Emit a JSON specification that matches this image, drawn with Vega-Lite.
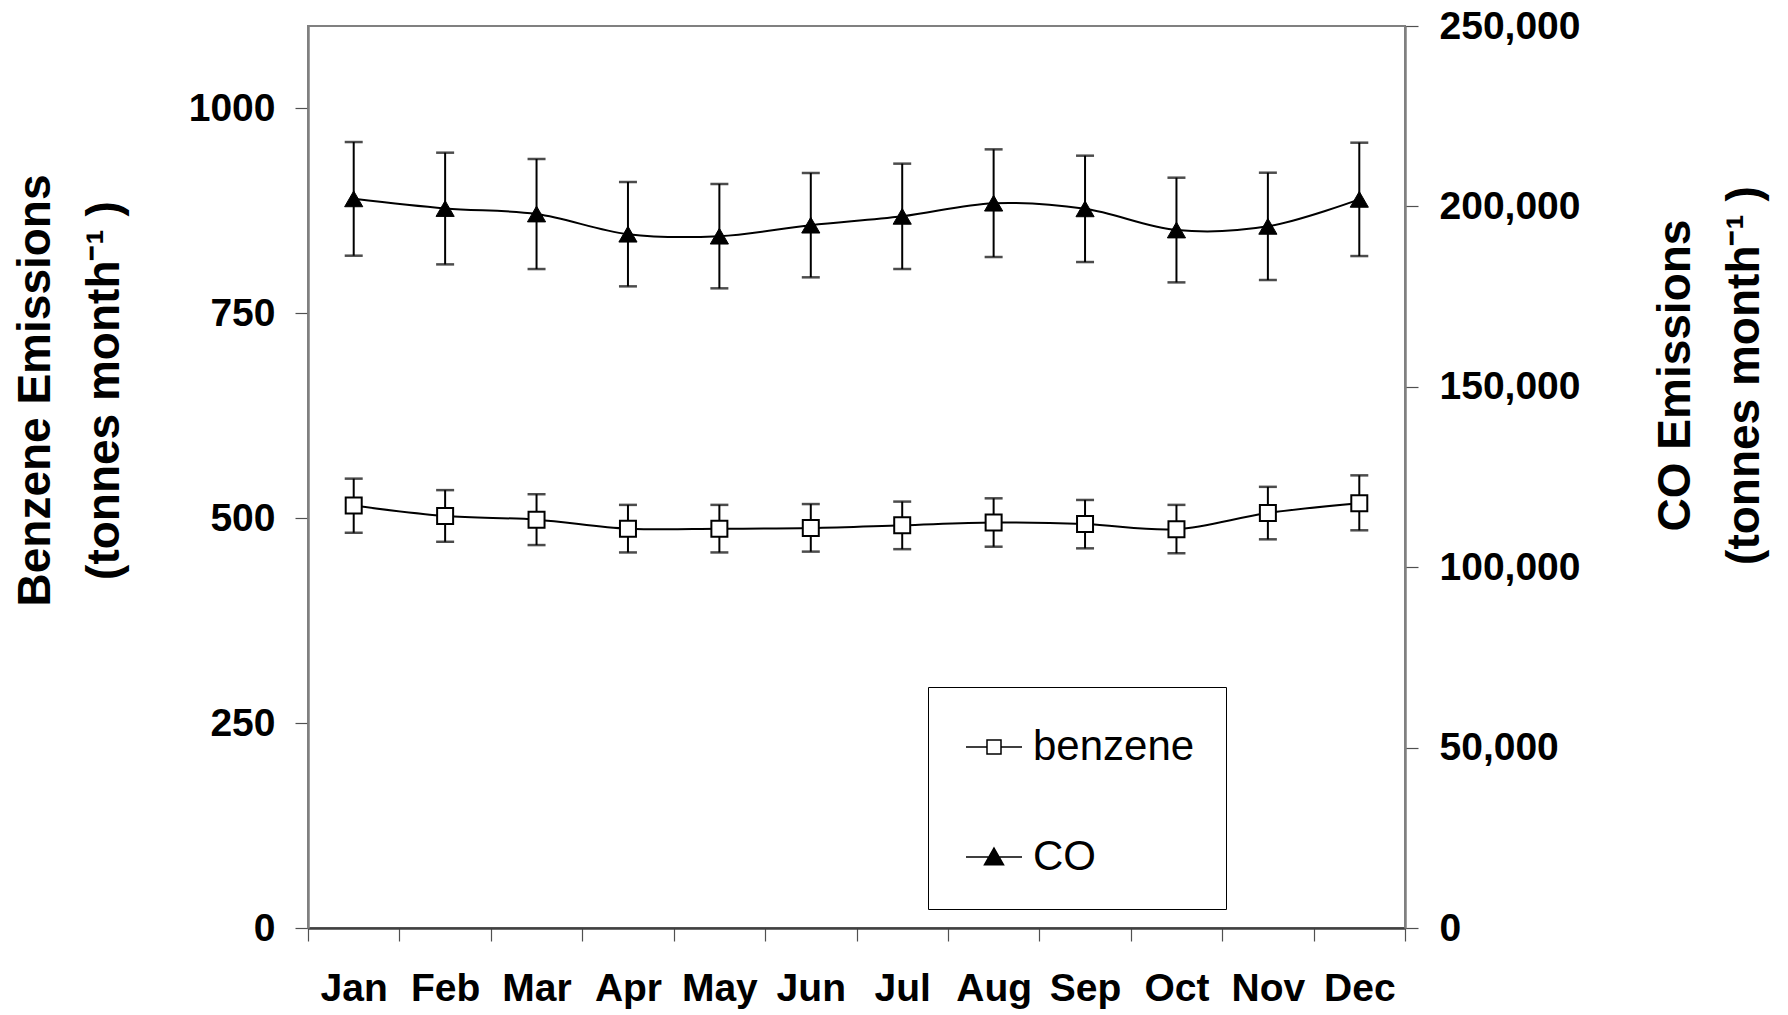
{
  "$schema": "https://vega.github.io/schema/vega-lite/v6.json",
  "width": 1097,
  "height": 902,
  "autosize": {"type": "none"},
  "padding": {"left": 308, "top": 26, "right": 383, "bottom": 87},
  "background": "white",
  "config": {
    "font": "Liberation Sans",
    "view": {"stroke": "#808080", "strokeWidth": 2}
  },
  "datasets": {
    "benz": [
      {"month": "Jan", "value": 515.2, "lo": 482, "hi": 548},
      {"month": "Feb", "value": 502.4, "lo": 471, "hi": 534},
      {"month": "Mar", "value": 498.0, "lo": 467, "hi": 529},
      {"month": "Apr", "value": 487.0, "lo": 458, "hi": 516},
      {"month": "May", "value": 486.8, "lo": 458, "hi": 516},
      {"month": "Jun", "value": 487.8, "lo": 459, "hi": 517},
      {"month": "Jul", "value": 491.1, "lo": 462, "hi": 520},
      {"month": "Aug", "value": 494.5, "lo": 465, "hi": 524},
      {"month": "Sep", "value": 492.7, "lo": 463, "hi": 522},
      {"month": "Oct", "value": 486.4, "lo": 457, "hi": 516},
      {"month": "Nov", "value": 506.1, "lo": 474, "hi": 538},
      {"month": "Dec", "value": 518.1, "lo": 485, "hi": 552}
    ],
    "co": [
      {"month": "Jan", "value": 202090, "lo": 186340, "hi": 217840},
      {"month": "Feb", "value": 199410, "lo": 183930, "hi": 214890},
      {"month": "Mar", "value": 197890, "lo": 182640, "hi": 213140},
      {"month": "Apr", "value": 192300, "lo": 177840, "hi": 206760},
      {"month": "May", "value": 191750, "lo": 177290, "hi": 206210},
      {"month": "Jun", "value": 194800, "lo": 180340, "hi": 209260},
      {"month": "Jul", "value": 197250, "lo": 182650, "hi": 211850},
      {"month": "Aug", "value": 200890, "lo": 185970, "hi": 215810},
      {"month": "Sep", "value": 199320, "lo": 184580, "hi": 214060},
      {"month": "Oct", "value": 193450, "lo": 178940, "hi": 207960},
      {"month": "Nov", "value": 194470, "lo": 179600, "hi": 209340},
      {"month": "Dec", "value": 201950, "lo": 186240, "hi": 217660}
    ],
    "leg": [
      {"series": "benzene"},
      {"series": "CO"}
    ]
  },
  "encoding": {
    "x": {
      "field": "month",
      "type": "nominal",
      "sort": null,
      "scale": {"domain": ["Jan","Feb","Mar","Apr","May","Jun","Jul","Aug","Sep","Oct","Nov","Dec"], "paddingInner": 0, "paddingOuter": 0},
      "axis": {
        "orient": "bottom",
        "title": null,
        "tickBand": "extent",
        "tickSize": 13,
        "tickColor": "#505050",
        "tickWidth": 1.2,
        "domainColor": "#404040",
        "domainWidth": 2.5,
        "labelFontSize": 39,
        "labelFontWeight": "bold",
        "labelColor": "black",
        "labelPadding": 28,
        "labelAngle": 0,
        "labelOverlap": false,
        "grid": false
      }
    }
  },
  "layer": [
    {
      "data": {"name": "benz"},
      "layer": [
        {
          "mark": {"type": "line", "interpolate": "catmull-rom", "color": "black", "strokeWidth": 2},
          "encoding": {"y": {"field": "value", "type": "quantitative", "scale": {"domain": [0, 1100], "nice": false}, "axis": {"orient": "left", "values": [0, 250, 500, 750, 1000], "format": "d", "grid": false, "domainColor": "#808080", "domainWidth": 2.5, "tickColor": "#505050", "tickWidth": 1.2, "tickSize": 13, "labelFontSize": 39, "labelFontWeight": "bold", "labelColor": "black", "labelPadding": 20, "labelFlush": false, "title": ["Benzene Emissions", "(tonnes month⁻¹ )"], "titleFontSize": 46, "titleFontWeight": "bold", "titleColor": "black", "titleAngle": 270, "titleBaseline": "middle", "titleAlign": "center", "titleX": -273, "titleY": 364, "titleLineHeight": 69}}}
        },
        {
          "mark": {"type": "rule", "color": "black", "strokeWidth": 2},
          "encoding": {"y": {"field": "lo", "type": "quantitative", "scale": {"domain": [0, 1100], "nice": false}, "axis": {"orient": "left", "values": [0, 250, 500, 750, 1000], "format": "d", "grid": false, "domainColor": "#808080", "domainWidth": 2.5, "tickColor": "#505050", "tickWidth": 1.2, "tickSize": 13, "labelFontSize": 39, "labelFontWeight": "bold", "labelColor": "black", "labelPadding": 20, "labelFlush": false, "title": ["Benzene Emissions", "(tonnes month⁻¹ )"], "titleFontSize": 46, "titleFontWeight": "bold", "titleColor": "black", "titleAngle": 270, "titleBaseline": "middle", "titleAlign": "center", "titleX": -273, "titleY": 364, "titleLineHeight": 69}}, "y2": {"field": "hi"}}
        },
        {
          "mark": {"type": "tick", "orient": "horizontal", "color": "black", "size": 18, "thickness": 2.5},
          "encoding": {"y": {"field": "lo", "type": "quantitative", "scale": {"domain": [0, 1100], "nice": false}, "axis": {"orient": "left", "values": [0, 250, 500, 750, 1000], "format": "d", "grid": false, "domainColor": "#808080", "domainWidth": 2.5, "tickColor": "#505050", "tickWidth": 1.2, "tickSize": 13, "labelFontSize": 39, "labelFontWeight": "bold", "labelColor": "black", "labelPadding": 20, "labelFlush": false, "title": ["Benzene Emissions", "(tonnes month⁻¹ )"], "titleFontSize": 46, "titleFontWeight": "bold", "titleColor": "black", "titleAngle": 270, "titleBaseline": "middle", "titleAlign": "center", "titleX": -273, "titleY": 364, "titleLineHeight": 69}}}
        },
        {
          "mark": {"type": "tick", "orient": "horizontal", "color": "black", "size": 18, "thickness": 2.5},
          "encoding": {"y": {"field": "hi", "type": "quantitative", "scale": {"domain": [0, 1100], "nice": false}, "axis": {"orient": "left", "values": [0, 250, 500, 750, 1000], "format": "d", "grid": false, "domainColor": "#808080", "domainWidth": 2.5, "tickColor": "#505050", "tickWidth": 1.2, "tickSize": 13, "labelFontSize": 39, "labelFontWeight": "bold", "labelColor": "black", "labelPadding": 20, "labelFlush": false, "title": ["Benzene Emissions", "(tonnes month⁻¹ )"], "titleFontSize": 46, "titleFontWeight": "bold", "titleColor": "black", "titleAngle": 270, "titleBaseline": "middle", "titleAlign": "center", "titleX": -273, "titleY": 364, "titleLineHeight": 69}}}
        },
        {
          "mark": {"type": "point", "shape": "square", "size": 256, "filled": true, "fill": "white", "stroke": "black", "strokeWidth": 2, "opacity": 1},
          "encoding": {"y": {"field": "value", "type": "quantitative", "scale": {"domain": [0, 1100], "nice": false}, "axis": {"orient": "left", "values": [0, 250, 500, 750, 1000], "format": "d", "grid": false, "domainColor": "#808080", "domainWidth": 2.5, "tickColor": "#505050", "tickWidth": 1.2, "tickSize": 13, "labelFontSize": 39, "labelFontWeight": "bold", "labelColor": "black", "labelPadding": 20, "labelFlush": false, "title": ["Benzene Emissions", "(tonnes month⁻¹ )"], "titleFontSize": 46, "titleFontWeight": "bold", "titleColor": "black", "titleAngle": 270, "titleBaseline": "middle", "titleAlign": "center", "titleX": -273, "titleY": 364, "titleLineHeight": 69}}}
        }
      ]
    },
    {
      "data": {"name": "co"},
      "layer": [
        {
          "mark": {"type": "line", "interpolate": "catmull-rom", "color": "black", "strokeWidth": 2},
          "encoding": {"y": {"field": "value", "type": "quantitative", "scale": {"domain": [0, 250000], "nice": false}, "axis": {"orient": "right", "values": [0, 50000, 100000, 150000, 200000, 250000], "format": ",d", "grid": false, "domainColor": "#808080", "domainWidth": 2.5, "tickColor": "#505050", "tickWidth": 1.2, "tickSize": 13, "labelFontSize": 39, "labelFontWeight": "bold", "labelColor": "black", "labelPadding": 21, "labelFlush": false, "title": ["CO Emissions", "(tonnes month⁻¹ )"], "titleFontSize": 46, "titleFontWeight": "bold", "titleColor": "black", "titleAngle": 270, "titleBaseline": "middle", "titleAlign": "center", "titleX": 270, "titleY": 349, "titleLineHeight": 69}}}
        },
        {
          "mark": {"type": "rule", "color": "black", "strokeWidth": 2},
          "encoding": {"y": {"field": "lo", "type": "quantitative", "scale": {"domain": [0, 250000], "nice": false}, "axis": {"orient": "right", "values": [0, 50000, 100000, 150000, 200000, 250000], "format": ",d", "grid": false, "domainColor": "#808080", "domainWidth": 2.5, "tickColor": "#505050", "tickWidth": 1.2, "tickSize": 13, "labelFontSize": 39, "labelFontWeight": "bold", "labelColor": "black", "labelPadding": 21, "labelFlush": false, "title": ["CO Emissions", "(tonnes month⁻¹ )"], "titleFontSize": 46, "titleFontWeight": "bold", "titleColor": "black", "titleAngle": 270, "titleBaseline": "middle", "titleAlign": "center", "titleX": 270, "titleY": 349, "titleLineHeight": 69}}, "y2": {"field": "hi"}}
        },
        {
          "mark": {"type": "tick", "orient": "horizontal", "color": "black", "size": 18, "thickness": 2.5},
          "encoding": {"y": {"field": "lo", "type": "quantitative", "scale": {"domain": [0, 250000], "nice": false}, "axis": {"orient": "right", "values": [0, 50000, 100000, 150000, 200000, 250000], "format": ",d", "grid": false, "domainColor": "#808080", "domainWidth": 2.5, "tickColor": "#505050", "tickWidth": 1.2, "tickSize": 13, "labelFontSize": 39, "labelFontWeight": "bold", "labelColor": "black", "labelPadding": 21, "labelFlush": false, "title": ["CO Emissions", "(tonnes month⁻¹ )"], "titleFontSize": 46, "titleFontWeight": "bold", "titleColor": "black", "titleAngle": 270, "titleBaseline": "middle", "titleAlign": "center", "titleX": 270, "titleY": 349, "titleLineHeight": 69}}}
        },
        {
          "mark": {"type": "tick", "orient": "horizontal", "color": "black", "size": 18, "thickness": 2.5},
          "encoding": {"y": {"field": "hi", "type": "quantitative", "scale": {"domain": [0, 250000], "nice": false}, "axis": {"orient": "right", "values": [0, 50000, 100000, 150000, 200000, 250000], "format": ",d", "grid": false, "domainColor": "#808080", "domainWidth": 2.5, "tickColor": "#505050", "tickWidth": 1.2, "tickSize": 13, "labelFontSize": 39, "labelFontWeight": "bold", "labelColor": "black", "labelPadding": 21, "labelFlush": false, "title": ["CO Emissions", "(tonnes month⁻¹ )"], "titleFontSize": 46, "titleFontWeight": "bold", "titleColor": "black", "titleAngle": 270, "titleBaseline": "middle", "titleAlign": "center", "titleX": 270, "titleY": 349, "titleLineHeight": 69}}}
        },
        {
          "mark": {"type": "point", "shape": "triangle-up", "size": 330, "filled": true, "fill": "black", "stroke": "black", "strokeWidth": 1, "opacity": 1},
          "encoding": {"y": {"field": "value", "type": "quantitative", "scale": {"domain": [0, 250000], "nice": false}, "axis": {"orient": "right", "values": [0, 50000, 100000, 150000, 200000, 250000], "format": ",d", "grid": false, "domainColor": "#808080", "domainWidth": 2.5, "tickColor": "#505050", "tickWidth": 1.2, "tickSize": 13, "labelFontSize": 39, "labelFontWeight": "bold", "labelColor": "black", "labelPadding": 21, "labelFlush": false, "title": ["CO Emissions", "(tonnes month⁻¹ )"], "titleFontSize": 46, "titleFontWeight": "bold", "titleColor": "black", "titleAngle": 270, "titleBaseline": "middle", "titleAlign": "center", "titleX": 270, "titleY": 349, "titleLineHeight": 69}}}
        }
      ]
    },
    {
      "data": {"name": "leg"},
      "mark": {"type": "point", "opacity": 0, "filled": true, "strokeWidth": 1.5},
      "encoding": {
        "shape": {
          "field": "series", "type": "nominal",
          "scale": {"domain": ["benzene", "CO"], "range": ["M-1,0H-0.25M0.25,0H1M-0.25,-0.25H0.25V0.25H-0.25Z", "M-1,0H1M0,-0.32L0.34,0.28H-0.34Z"]},
          "legend": {"title": null, "orient": "none", "legendX": 620, "legendY": 661, "padding": 31, "symbolOffset": 6, "fillColor": "white", "strokeColor": "black", "labelFontSize": 42, "labelFont": "Liberation Sans", "labelFontWeight": "normal", "labelColor": "black", "labelOffset": 10, "labelLimit": 400, "symbolSize": 3136, "symbolStrokeWidth": 1.5, "symbolOpacity": 1, "rowPadding": 60}
        },
        "fill": {
          "field": "series", "type": "nominal",
          "scale": {"domain": ["benzene", "CO"], "range": ["white", "black"]},
          "legend": {"title": null, "orient": "none", "legendX": 620, "legendY": 661, "padding": 31, "symbolOffset": 6, "fillColor": "white", "strokeColor": "black", "labelFontSize": 42, "labelFont": "Liberation Sans", "labelFontWeight": "normal", "labelColor": "black", "labelOffset": 10, "labelLimit": 400, "symbolSize": 3136, "symbolStrokeWidth": 1.5, "symbolOpacity": 1, "rowPadding": 60}
        },
        "stroke": {
          "field": "series", "type": "nominal",
          "scale": {"domain": ["benzene", "CO"], "range": ["black", "black"]},
          "legend": {"title": null, "orient": "none", "legendX": 620, "legendY": 661, "padding": 31, "symbolOffset": 6, "fillColor": "white", "strokeColor": "black", "labelFontSize": 42, "labelFont": "Liberation Sans", "labelFontWeight": "normal", "labelColor": "black", "labelOffset": 10, "labelLimit": 400, "symbolSize": 3136, "symbolStrokeWidth": 1.5, "symbolOpacity": 1, "rowPadding": 60}
        }
      }
    }
  ],
  "resolve": {"scale": {"y": "independent"}}
}
